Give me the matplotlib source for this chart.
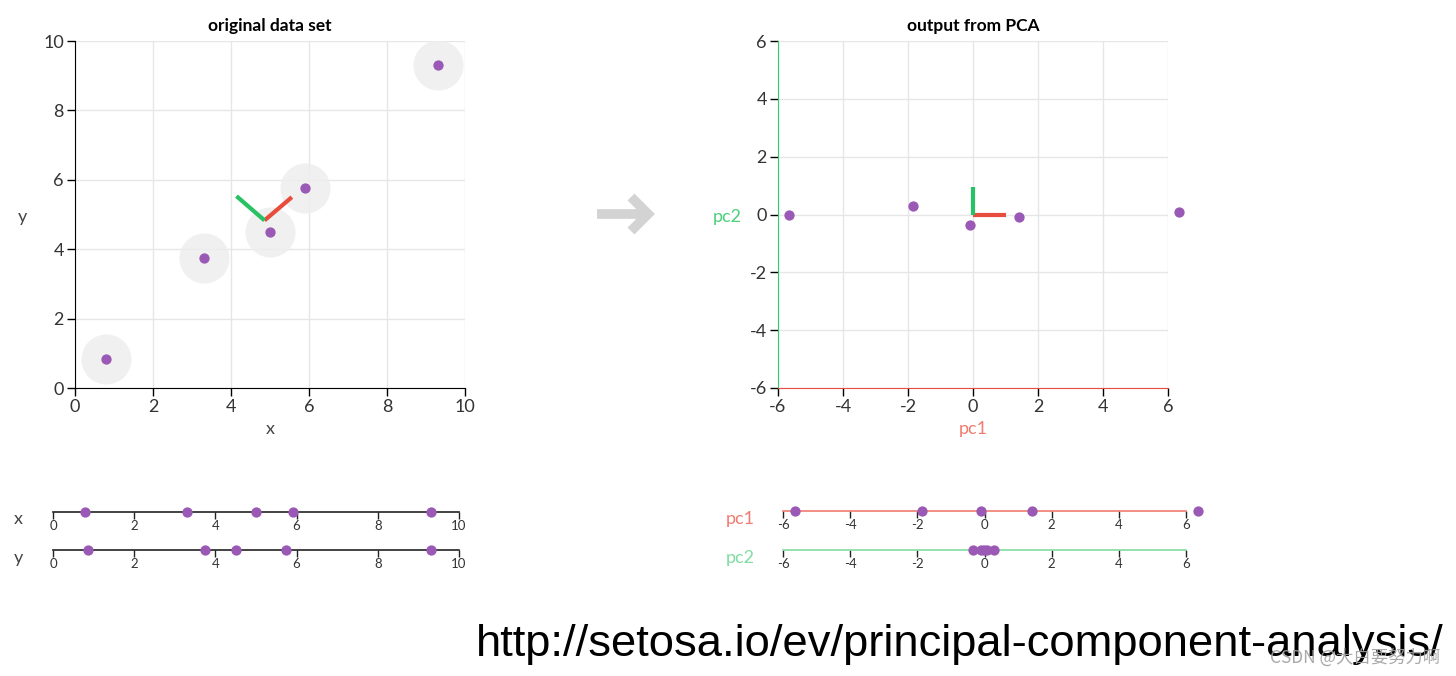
import numpy as np
import matplotlib
matplotlib.use('Agg')
import matplotlib.pyplot as plt
from matplotlib.lines import Line2D

plt.rcParams['font.family'] = ['Lato', 'DejaVu Sans']
plt.rcParams['axes.unicode_minus'] = False

# original data (x, y)
xs = [0.8, 3.3, 5.0, 5.9, 9.3]
ys = [0.85, 3.75, 4.5, 5.75, 9.3]

# principal component directions drawn in the original space
pc1_dir = [0.70, 0.67]
pc2_dir = [-0.72, 0.70]

# projected data (pc1, pc2)
pc1 = [-5.65, -1.85, -0.1, 1.4, 6.35]
pc2 = [-0.02, 0.28, -0.35, -0.1, 0.08]

xy_ticks = [0, 2, 4, 6, 8, 10]
pc_ticks = [-6, -4, -2, 0, 2, 4, 6]

purple = '#9b59b6'
green = '#2ecc71'
red = '#e74c3c'
grid_c = '#e6e6e6'
text_c = '#333333'

W, H = 1456, 676
fig = plt.figure(figsize=(W / 100, H / 100), dpi=100)


def px_box(x0, x1, y_top, y_bot):
    return [x0 / W, 1 - y_bot / H, (x1 - x0) / W, (y_bot - y_top) / H]


def style_main(ax):
    ax.grid(True, color=grid_c, lw=1)
    ax.set_axisbelow(True)
    ax.spines['top'].set_visible(False)
    ax.spines['right'].set_visible(False)
    ax.tick_params(length=6, width=1, labelsize=13, labelcolor=text_c, pad=2)


# ---- original data set ----
ax1 = fig.add_axes(px_box(75, 465, 41, 388))
style_main(ax1)
ax1.set_xlim(0, 10)
ax1.set_ylim(0, 10)
ax1.set_xticks(xy_ticks)
ax1.set_yticks(xy_ticks)
ax1.scatter(xs, ys, s=1300, color='#eeeeee', alpha=0.85, lw=0, zorder=2)
ax1.scatter(xs, ys, s=55, color=purple, lw=0, zorder=4)
mx, my = np.mean(xs), np.mean(ys)
ax1.plot([mx, mx + pc1_dir[0]], [my, my + pc1_dir[1]], color=red, lw=3, zorder=3, solid_capstyle='butt')
ax1.plot([mx, mx + pc2_dir[0]], [my, my + pc2_dir[1]], color='#27c263', lw=3, zorder=3, solid_capstyle='butt')
ax1.set_title('original data set', fontsize=12.5, fontweight='bold', pad=7)
ax1.set_xlabel('x', fontsize=13, color='#444444', labelpad=4)
ax1.set_ylabel('y', fontsize=13, color='#444444', rotation=0)
ax1.yaxis.set_label_coords(-0.136, 0.47)

# ---- output from PCA ----
ax2 = fig.add_axes(px_box(778, 1168, 41, 388))
style_main(ax2)
ax2.set_xlim(-6, 6)
ax2.set_ylim(-6, 6)
ax2.set_xticks(pc_ticks)
ax2.set_yticks(pc_ticks)
ax2.spines['left'].set_color(green)
ax2.spines['bottom'].set_color(red)
ax2.scatter(pc1, pc2, s=55, color=purple, lw=0, zorder=4, clip_on=False)
ax2.plot([0, 1], [0, 0], color=red, lw=3, zorder=3, solid_capstyle='butt')
ax2.plot([0, 0], [0, 0.95], color='#27c263', lw=3, zorder=3, solid_capstyle='butt')
ax2.set_title('output from PCA', fontsize=12.5, fontweight='bold', pad=7)
ax2.set_xlabel('pc1', fontsize=13, color='#f07b6e', labelpad=4)
ax2.set_ylabel('pc2', fontsize=13, color='#4ad07a', rotation=0)
ax2.yaxis.set_label_coords(-0.13, 0.47)

# grey arrow between the two plots (shaft + chevron)
arrow_c = '#d3d3d3'
fig.add_artist(Line2D([597 / W, 646 / W], [1 - 214 / H, 1 - 214 / H],
                      transform=fig.transFigure, color=arrow_c, lw=7,
                      solid_capstyle='butt'))
fig.add_artist(Line2D([631 / W, 648 / W, 631 / W], [1 - 197 / H, 1 - 214 / H, 1 - 231 / H],
                      transform=fig.transFigure, color=arrow_c, lw=7,
                      solid_capstyle='butt', solid_joinstyle='miter'))


# ---- 1D strips ----
def strip(x0, x1, y_line, lim, ticks, vals, line_c):
    ax = fig.add_axes(px_box(x0, x1, y_line - 20, y_line))
    ax.set_xlim(*lim)
    ax.set_ylim(0, 1)
    for s in ['top', 'right', 'left']:
        ax.spines[s].set_visible(False)
    ax.spines['bottom'].set_color(line_c)
    ax.spines['bottom'].set_linewidth(1.2)
    ax.set_yticks([])
    ax.set_xticks(ticks)
    ax.tick_params(axis='x', length=5, width=1, color='#222222', labelsize=9.5,
                   labelcolor=text_c, pad=1)
    ax.patch.set_alpha(0)
    ax.scatter(vals, [0] * len(vals), s=55, color=purple, lw=0, zorder=4, clip_on=False)
    return ax


strip(53, 459, 512, (0, 10), xy_ticks, xs, '#222222')
strip(53, 459, 550, (0, 10), xy_ticks, ys, '#222222')
strip(783, 1186, 511, (-6, 6), pc_ticks, pc1, '#f07b6e')
strip(783, 1186, 550, (-6, 6), pc_ticks, pc2, '#80dca0')
fig.text(18 / W, 1 - 519 / H, 'x', fontsize=13, color='#444444', ha='center', va='center')
fig.text(18 / W, 1 - 558 / H, 'y', fontsize=13, color='#444444', ha='center', va='center')
fig.text(740 / W, 1 - 519 / H, 'pc1', fontsize=13, color='#f07b6e', ha='center', va='center')
fig.text(740 / W, 1 - 558 / H, 'pc2', fontsize=13, color='#80dca0', ha='center', va='center')

# source url and watermark
fig.text(476 / W, 1 - 656 / H, 'http://setosa.io/ev/principal-component-analysis/',
         fontsize=32.7, family='Liberation Sans', color='black', ha='left', va='baseline')
fig.text(1440 / W, 1 - 658 / H, 'CSDN @大白要努力啊', fontsize=12.5,
         family=['Noto Sans CJK SC', 'DejaVu Sans'], color='#a0a0a0', alpha=0.9,
         ha='right', va='center')

plt.savefig('out.png', dpi=100)
